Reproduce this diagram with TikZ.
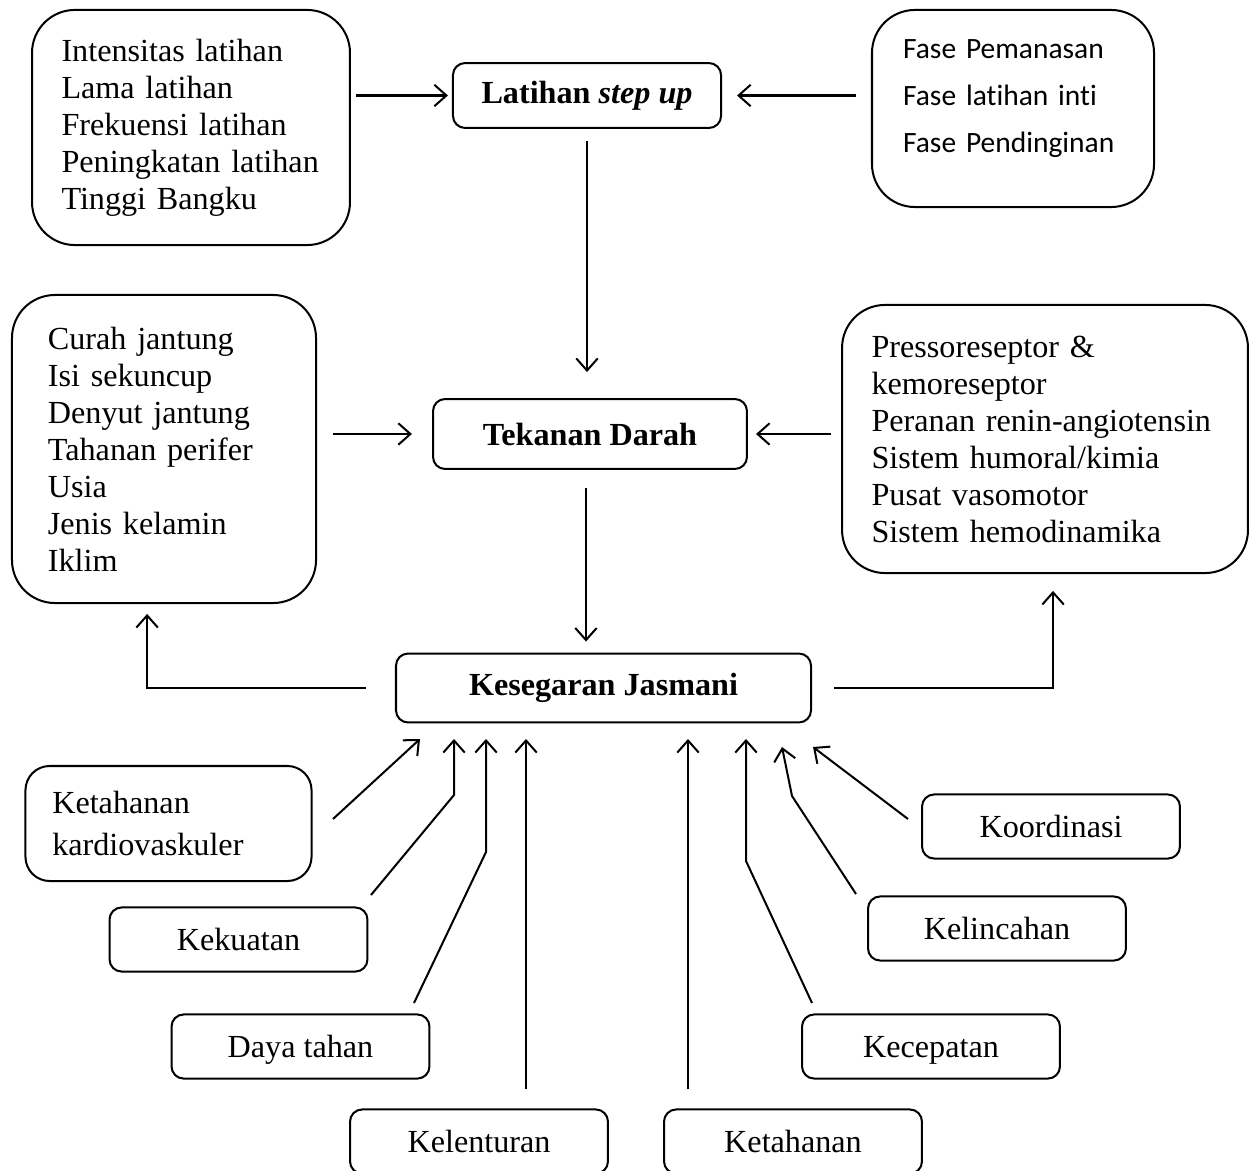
\documentclass[tikz,border=0pt]{standalone}
\usepackage{fontspec}
\setmainfont{Liberation Serif}
\newfontfamily\calibri[Ligatures={NoCommon}]{Carlito}
\usetikzlibrary{arrows.meta}

\tikzset{
  box/.style={draw, line width=0.75pt, rounded corners=4.5pt, inner sep=2pt, font=\fontsize{12}{13.8}\selectfont},
  smallbox/.style={box, minimum width=96.2pt, minimum height=23.9pt, text height=8.2pt, text depth=0pt},
  listbox/.style={draw, line width=0.75pt, rounded corners=16pt, align=left, font=\fontsize{12}{13.8}\selectfont},
  arr/.style={-{Straight Barb[length=4.5pt,width=8pt]}, line width=0.75pt},
}

\begin{document}
\begin{tikzpicture}[x=0.373pt, y=-0.373pt]
    \useasboundingbox (0,0) rectangle (1258,1171);

    % top row
    \node[listbox, inner xsep=11pt, text width=96.6pt, minimum height=87.7pt] (param) at (191,127.5)
        {Intensitas latihan\\Lama latihan\\Frekuensi latihan\\Peningkatan latihan\\Tinggi Bangku};
    \node[box, minimum width=100pt, minimum height=24.2pt] (latihan) at (587,95.5) {\textbf{Latihan \textit{step up}}};
    \node[listbox, inner xsep=11.6pt, text width=82pt, minimum height=73.5pt, text depth=44.5pt,
        font=\calibri\fontsize{11}{17.5}\selectfont] (fase) at (1013,108.5)
        {Fase Pemanasan\\Fase latihan inti\\Fase Pendinginan};

    % middle row
    \node[listbox, inner xsep=13.4pt, text width=86.6pt, minimum height=114.9pt] (faktor) at (164,449)
        {Curah jantung\\Isi sekuncup\\Denyut jantung\\Tahanan perifer\\Usia\\Jenis kelamin\\Iklim};
    \node[box, minimum width=117.1pt, minimum height=26.1pt] (tekanan) at (590,434) {\textbf{Tekanan Darah}};
    \node[listbox, inner xsep=11pt, text width=129.4pt, minimum height=100pt] (regulasi) at (1045,439)
        {Pressoreseptor \&\\kemoreseptor\\Peranan renin-angiotensin\\Sistem humoral/kimia\\Pusat vasomotor\\Sistem hemodinamika};

    \node[box, minimum width=154.8pt, minimum height=25.7pt] (kesegaran) at (603.5,688) {\textbf{Kesegaran Jasmani}};

    % components
    \node[listbox, rounded corners=9pt, inner xsep=10pt, text width=86.7pt, minimum height=42.9pt,
        font=\fontsize{12}{15.7}\selectfont] (kardio) at (168.5,823.5) {Ketahanan\\kardiovaskuler};
    \node[smallbox] (kekuatan) at (238.5,939.5) {Kekuatan};
    \node[smallbox] (daya) at (300.5,1046.5) {Daya tahan};
    \node[smallbox] (kelenturan) at (479,1141.5) {Kelenturan};
    \node[smallbox] (ketahanan) at (793,1141.5) {Ketahanan};
    \node[smallbox] (kecepatan) at (931,1046.5) {Kecepatan};
    \node[smallbox] (kelincahan) at (997,928.5) {Kelincahan};
    \node[smallbox] (koordinasi) at (1051,826.5) {Koordinasi};

    % main flow
    \draw[arr, shorten <=1.9pt, shorten >=1.5pt] (param.east |- latihan.west) -- (latihan.west);
    \draw[arr, shorten <=5.6pt, shorten >=5.6pt] (fase.west |- latihan.east) -- (latihan.east);
    \draw[arr, shorten <=4.5pt, shorten >=9.7pt] (latihan.south) -- (latihan.south |- tekanan.north);
    \draw[arr, shorten <=6pt, shorten >=7.5pt] (faktor.east |- tekanan.west) -- (tekanan.west);
    \draw[arr, shorten <=3.7pt, shorten >=3pt] (regulasi.west |- tekanan.east) -- (tekanan.east);
    \draw[arr, shorten <=6.7pt, shorten >=4.1pt] ([xshift=-1.5pt]tekanan.south) -- ([xshift=-1.5pt]tekanan.south |- kesegaran.north);
    \draw[arr, shorten <=11pt, shorten >=3.7pt] (kesegaran.west) -| ([xshift=-6.3pt]faktor.south);
    \draw[arr, shorten <=8.2pt, shorten >=6.3pt] (kesegaran.east) -| ([xshift=3pt]regulasi.south);

    % components into kesegaran
    \coordinate (kardio-a) at (333,819);
    \coordinate (kardio-b) at (420,739);
    \coordinate (kekuatan-a) at (371,895);
    \coordinate (kekuatan-m) at (454,795);
    \coordinate (kekuatan-b) at (454,739);
    \coordinate (daya-a) at (414,1003);
    \coordinate (daya-m) at (486,852);
    \coordinate (daya-b) at (486,739);
    \coordinate (kelenturan-a) at (526,1089);
    \coordinate (kelenturan-b) at (526,739);
    \coordinate (ketahanan-a) at (688,1089);
    \coordinate (ketahanan-b) at (688,739);
    \coordinate (kecepatan-a) at (812,1003);
    \coordinate (kecepatan-m) at (746,861);
    \coordinate (kecepatan-b) at (746,739);
    \coordinate (kelincahan-a) at (856,894);
    \coordinate (kelincahan-m) at (792,796);
    \coordinate (kelincahan-b) at (782,747);
    \coordinate (koordinasi-a) at (908,819);
    \coordinate (koordinasi-b) at (813,747);

    \draw[arr] (kardio-a) -- (kardio-b);
    \draw[arr] (kekuatan-a) -- (kekuatan-m) -- (kekuatan-b);
    \draw[arr] (daya-a) -- (daya-m) -- (daya-b);
    \draw[arr] (kelenturan-a) -- (kelenturan-b);
    \draw[arr] (ketahanan-a) -- (ketahanan-b);
    \draw[arr] (kecepatan-a) -- (kecepatan-m) -- (kecepatan-b);
    \draw[arr] (kelincahan-a) -- (kelincahan-m) -- (kelincahan-b);
    \draw[arr] (koordinasi-a) -- (koordinasi-b);

\end{tikzpicture}
\end{document}
